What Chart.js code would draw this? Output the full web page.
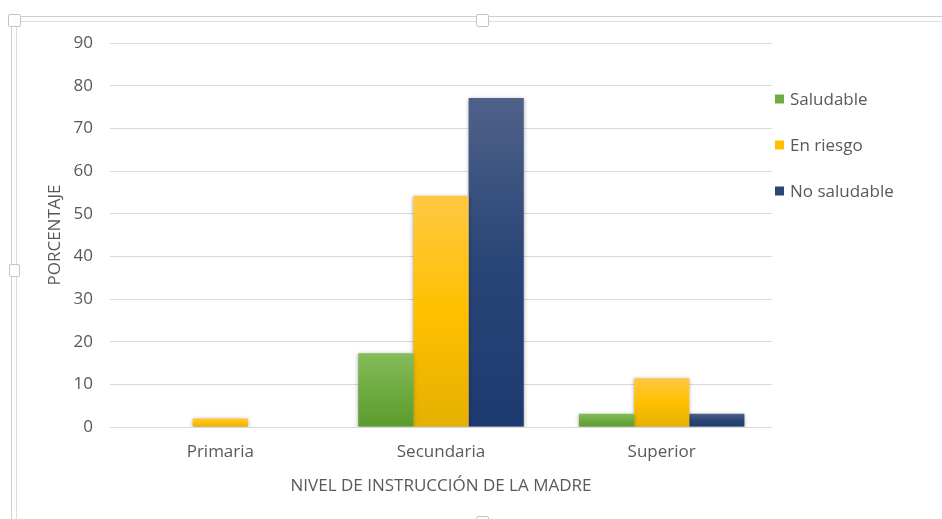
<!DOCTYPE html>
<html lang="es">
<head>
<meta charset="utf-8">
<title>Nivel de instrucción de la madre</title>
<script src="https://cdn.jsdelivr.net/npm/chart.js@4.4.1/dist/chart.umd.min.js"></script>
<style>
    html, body { margin: 0; padding: 0; background: #fff; }
    #contenedor { position: relative; width: 942px; height: 519px; overflow: hidden; }
    #grafica { position: absolute; left: 0; top: 0; }
    /* marco de selección alrededor del gráfico */
    .linea { position: absolute; border: 1px solid #cfcfcf; pointer-events: none; }
    .asa { position: absolute; width: 11px; height: 11px; border: 1px solid #c4c4c4; border-radius: 2px; background: #fff; pointer-events: none; }
</style>
</head>
<body>
<div id="contenedor">
    <canvas id="grafica" width="942" height="519"></canvas>
    <div class="linea" style="left:11px; top:16px; width:960px; height:540px;"></div>
    <div class="linea" style="left:16px; top:21px; width:960px; height:540px; border-color:#dedede;"></div>
    <div class="asa" style="left:8px; top:14px;"></div>
    <div class="asa" style="left:476px; top:14px;"></div>
    <div class="asa" style="left:9px; top:264px; width:9px;"></div>
    <div class="asa" style="left:476px; top:516px;"></div>
</div>
<script>
// Datos del gráfico
const categorias = ['Primaria', 'Secundaria', 'Superior'];
const series = ['Saludable', 'En riesgo', 'No saludable'];
const saludable = [0, 17.3, 3.1];
const enRiesgo = [2.0, 54.2, 11.4];
const noSaludable = [0, 77.1, 3.1];

const tituloX = 'NIVEL DE INSTRUCCIÓN DE LA MADRE';
const tituloY = 'PORCENTAJE';

// colores: claro arriba, base, oscuro abajo
const verdes = ['#84bd5a', '#6eab40', '#5d9b2d'];
const amarillos = ['#ffc843', '#ffc000', '#e5b000'];
const azules = ['#4e6189', '#2a4577', '#1d3a70'];

const TEXTO = '#595959';
const FUENTE = "'Open Sans', 'Noto Sans', sans-serif";
const TAM = 17;

// degradado vertical por barra
function degradado(colores) {
    return (ctx) => {
        const chart = ctx.chart;
        const y = chart.scales.y;
        if (!chart.chartArea || !y || ctx.raw == null) return colores[1];
        const arriba = y.getPixelForValue(ctx.raw);
        const base = y.getPixelForValue(0);
        if (base - arriba < 1) return colores[1];
        const g = chart.ctx.createLinearGradient(0, arriba, 0, base);
        g.addColorStop(0, colores[0]);
        g.addColorStop(0.5, colores[1]);
        g.addColorStop(1, colores[2]);
        return g;
    };
}

// sombra suave de las barras
const sombraBarras = {
    id: 'sombraBarras',
    beforeDatasetsDraw(chart) {
        const c = chart.ctx;
        c.save();
        c.shadowColor = 'rgba(0, 0, 0, 0.35)';
        c.shadowBlur = 4;
        c.shadowOffsetX = 0;
        c.shadowOffsetY = 1;
    },
    afterDatasetsDraw(chart) {
        chart.ctx.restore();
    }
};

// leyenda a la derecha, cuadrito + texto
const leyendaDerecha = {
    id: 'leyendaDerecha',
    afterDraw(chart) {
        const c = chart.ctx;
        const x = chart.chartArea.right + 3;
        c.save();
        c.font = TAM + 'px ' + FUENTE;
        c.textBaseline = 'middle';
        c.textAlign = 'left';
        chart.data.datasets.forEach((ds, i) => {
            const yc = 99 + i * 46;
            c.fillStyle = ds.colorLeyenda;
            c.fillRect(x, yc - 4.5, 9, 9);
            c.fillStyle = TEXTO;
            c.fillText(ds.label, x + 15, yc + 1);
        });
        c.restore();
    }
};

const valores = [saludable, enRiesgo, noSaludable];
const paletas = [verdes, amarillos, azules];

new Chart(document.getElementById('grafica'), {
    type: 'bar',
    data: {
        labels: categorias,
        datasets: series.map((nombre, i) => ({
            label: nombre,
            data: valores[i],
            backgroundColor: degradado(paletas[i]),
            colorLeyenda: paletas[i][1],
            borderWidth: 0,
            barPercentage: 1,
            categoryPercentage: 0.75
        }))
    },
    options: {
        responsive: false,
        animation: false,
        layout: { padding: { top: 43, right: 170, bottom: 0, left: 0 } },
        plugins: {
            legend: { display: false },
            tooltip: { enabled: false }
        },
        scales: {
            y: {
                min: 0,
                max: 90,
                ticks: {
                    stepSize: 10,
                    color: TEXTO,
                    font: { family: FUENTE, size: TAM },
                    padding: 17
                },
                grid: { color: '#d9d9d9', lineWidth: 1, drawTicks: false },
                border: { display: false },
                title: {
                    display: true,
                    text: tituloY,
                    color: TEXTO,
                    font: { family: FUENTE, size: TAM },
                    padding: { top: 45, bottom: 0 }
                },
                afterFit(escala) { escala.width = 110; }
            },
            x: {
                ticks: {
                    color: TEXTO,
                    font: { family: FUENTE, size: TAM },
                    padding: 15
                },
                grid: { display: false, drawTicks: false },
                border: { display: false },
                title: {
                    display: true,
                    text: tituloX,
                    color: TEXTO,
                    font: { family: FUENTE, size: TAM },
                    padding: { top: 0, bottom: 23 }
                },
                afterFit(escala) { escala.height = 92; }
            }
        }
    },
    plugins: [sombraBarras, leyendaDerecha]
});
</script>
</body>
</html>
